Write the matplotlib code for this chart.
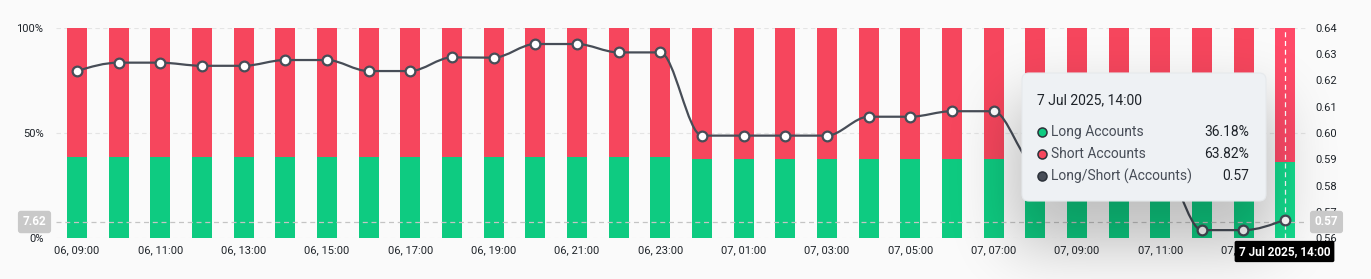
import numpy as np
import matplotlib
matplotlib.use('Agg')
import matplotlib.pyplot as plt
from matplotlib.path import Path
from matplotlib.patches import PathPatch, FancyBboxPatch
from matplotlib.lines import Line2D

W, H = 1371, 279
BG = '#fafafa'
GREEN = '#0ecb81'
RED = '#f6465d'
GREEN_HI = '#14dc8e'
RED_HI = '#ff4a68'
LINE = '#474d57'

# hourly points, 06 Jul 09:00 -> 07 Jul 14:00
hours = ['06, 09:00', '06, 10:00', '06, 11:00', '06, 12:00', '06, 13:00', '06, 14:00',
         '06, 15:00', '06, 16:00', '06, 17:00', '06, 18:00', '06, 19:00', '06, 20:00',
         '06, 21:00', '06, 22:00', '06, 23:00', '07, 00:00', '07, 01:00', '07, 02:00',
         '07, 03:00', '07, 04:00', '07, 05:00', '07, 06:00', '07, 07:00', '07, 08:00',
         '07, 09:00', '07, 10:00', '07, 11:00', '07, 12:00', '07, 13:00', '07, 14:00']
long_pct = [38.41, 38.53, 38.53, 38.48, 38.48, 38.57, 38.57, 38.41, 38.41, 38.61,
            38.61, 38.80, 38.80, 38.68, 38.68, 37.46, 37.46, 37.46, 37.46, 37.74,
            37.74, 37.82, 37.82, 37.03, 37.03, 37.07, 37.07, 36.02, 36.02, 36.18]
ls_ratio = [0.6236, 0.6268, 0.6268, 0.6256, 0.6256, 0.6278, 0.6278, 0.6236, 0.6236, 0.6288,
            0.6287, 0.6339, 0.6339, 0.6307, 0.6307, 0.5990, 0.5990, 0.5990, 0.5990, 0.6062,
            0.6062, 0.6083, 0.6083, 0.5880, 0.5880, 0.5890, 0.5890, 0.5630, 0.5630, 0.5670]
hover_idx = 29
cursor_pct = 7.62
ratio_ticks = [0.56, 0.57, 0.58, 0.59, 0.60, 0.61, 0.62, 0.63, 0.64]
pct_ticks = [0, 50, 100]


def fx(px):
    return px / W


def fy(py):
    return 1 - py / H


def monotone_path(x, y):
    # d3 curveMonotoneX as cubic bezier segments
    x = np.asarray(x, float)
    y = np.asarray(y, float)
    n = len(x)
    h = np.diff(x)
    s = np.diff(y) / h
    t = np.zeros(n)
    for i in range(1, n - 1):
        h0, h1, s0, s1 = h[i - 1], h[i], s[i - 1], s[i]
        p = (s0 * h1 + s1 * h0) / (h0 + h1)
        t[i] = (np.sign(s0) + np.sign(s1)) * min(abs(s0), abs(s1), 0.5 * abs(p))
    t[0] = (3 * s[0] - t[1]) / 2
    t[-1] = (3 * s[-1] - t[-2]) / 2
    verts = [(x[0], y[0])]
    codes = [Path.MOVETO]
    for i in range(n - 1):
        dx = (x[i + 1] - x[i]) / 3
        verts += [(x[i] + dx, y[i] + dx * t[i]),
                  (x[i + 1] - dx, y[i + 1] - dx * t[i + 1]),
                  (x[i + 1], y[i + 1])]
        codes += [Path.CURVE4] * 3
    return Path(verts, codes)


plt.rcParams['font.family'] = ['Roboto', 'DejaVu Sans']
fig = plt.figure(figsize=(W / 100, H / 100), dpi=100, facecolor=BG)
ax = fig.add_axes([fx(56), fy(238), (1306 - 56) / W, (238 - 28) / H])
ax.set_facecolor(BG)

x = np.arange(len(hours))
short_pct = [100 - v for v in long_pct]
gcol = [GREEN_HI if i == hover_idx else GREEN for i in x]
rcol = [RED_HI if i == hover_idx else RED for i in x]
ax.bar(x, long_pct, width=0.48, color=gcol, zorder=2)
ax.bar(x, short_pct, bottom=long_pct, width=0.48, color=rcol, zorder=2)

ax.set_xlim(-0.5, len(hours) - 0.5)
ax.set_ylim(0, 100)
ax.set_yticks(pct_ticks)
ax.set_yticklabels([f'{v}%' for v in pct_ticks])
ax.set_xticks(x[::2])
ax.set_xticklabels(hours[::2])
ax.tick_params(length=0, labelsize=8, colors='#1e2329', pad=5)
ax.tick_params(axis='y', pad=9)
ax.grid(axis='y', color='#e4e4e4', linestyle=(0, (4, 3)), linewidth=0.8, zorder=0)
for sp in ax.spines.values():
    sp.set_visible(False)

# crosshair
ax.axhline(cursor_pct, color='#c4c4c4', linestyle=(0, (4, 3)), linewidth=0.9, zorder=3)
ax.axvline(hover_idx, color='white', linestyle=(0, (4, 3)), linewidth=0.9, zorder=3)

ax2 = ax.twinx()
ax2.set_ylim(ratio_ticks[0], ratio_ticks[-1])
ax2.set_yticks(ratio_ticks)
ax2.set_yticklabels([f'{v:.2f}' for v in ratio_ticks])
ax2.tick_params(length=0, labelsize=8, colors='#1e2329', pad=7)
for sp in ax2.spines.values():
    sp.set_visible(False)
ax2.add_patch(PathPatch(monotone_path(x, ls_ratio), facecolor='none', edgecolor=LINE,
                        linewidth=1.6, zorder=4))
ax2.plot(x, ls_ratio, linestyle='none', marker='o', markersize=7, markerfacecolor='white',
         markeredgecolor=LINE, markeredgewidth=1.6, zorder=5)

# tooltip shadow
def blur_box(n, a, b, sigma):
    v = np.zeros(n)
    v[max(a, 0):min(b, n)] = 1.0
    k = np.arange(-3 * sigma, 3 * sigma + 1)
    g = np.exp(-0.5 * (k / sigma) ** 2)
    g /= g.sum()
    return np.convolve(v, g, mode='same')

sx = blur_box(W, 1012, 1275, 30)
sy = blur_box(H, 100, 245, 30)
alpha = np.outer(sy, sx) * 0.24
img = np.zeros((H, W, 4))
img[..., 3] = alpha
fig.figimage(img, 0, 0, origin='upper', zorder=1)

# tooltip box
x0, y0, x1, y1 = 1022, 73, 1266, 201
fig.add_artist(FancyBboxPatch((fx(x0), fy(y1)), fx(x1 - x0), (y1 - y0) / H,
                              boxstyle='round,pad=0,rounding_size=0.005',
                              mutation_aspect=W / H,
                              transform=fig.transFigure, facecolor='#eef1f4',
                              edgecolor='#e6e9ec', linewidth=0.8, zorder=2))
hover_time = '7 Jul 2025, 14:00'
fig.text(fx(1037), fy(100), hover_time, fontsize=10, color='#1e2329',
         va='center', ha='left', zorder=3)
rows = [('Long Accounts', f'{long_pct[hover_idx]:.2f}%', GREEN),
        ('Short Accounts', f'{short_pct[hover_idx]:.2f}%', RED),
        ('Long/Short (Accounts)', f'{ls_ratio[hover_idx]:.2f}', LINE)]
for k, (lab, val, c) in enumerate(rows):
    yy = fy(132 + 22 * k)
    fig.add_artist(Line2D([fx(1042)], [yy], marker='o', markersize=6.5, markerfacecolor=c,
                          markeredgecolor='#2b3139', markeredgewidth=1.1,
                          transform=fig.transFigure, zorder=3))
    fig.text(fx(1051), yy, lab, fontsize=10, color='#474d57', va='center', ha='left', zorder=3)
    fig.text(fx(1249), yy, val, fontsize=10, color='#1e2329', va='center', ha='right', zorder=3)

# axis crosshair labels
cy = fy(238 - cursor_pct / 100 * 210)
fig.text(fx(34.5), cy, f'{cursor_pct:.2f}', fontsize=8.5, color='white', fontweight='bold',
         ha='center', va='center', zorder=4,
         bbox=dict(boxstyle='round,pad=0.4,rounding_size=0.25', fc='#c9c9c9', ec='none'))
fig.text(fx(1326.5), cy, f'{ls_ratio[hover_idx]:.2f}', fontsize=8.5, color='white',
         fontweight='bold', ha='center', va='center', zorder=4,
         bbox=dict(boxstyle='round,pad=0.4,rounding_size=0.25', fc='#c9c9c9', ec='none'))
fig.text(fx(1284.5), fy(251.5), hover_time, fontsize=8.5, color='white', fontweight='bold',
         ha='center', va='center', zorder=4,
         bbox=dict(boxstyle='round,pad=0.35,rounding_size=0.15', fc='black', ec='none'))

fig.savefig('out.png', dpi=100, facecolor=BG)
